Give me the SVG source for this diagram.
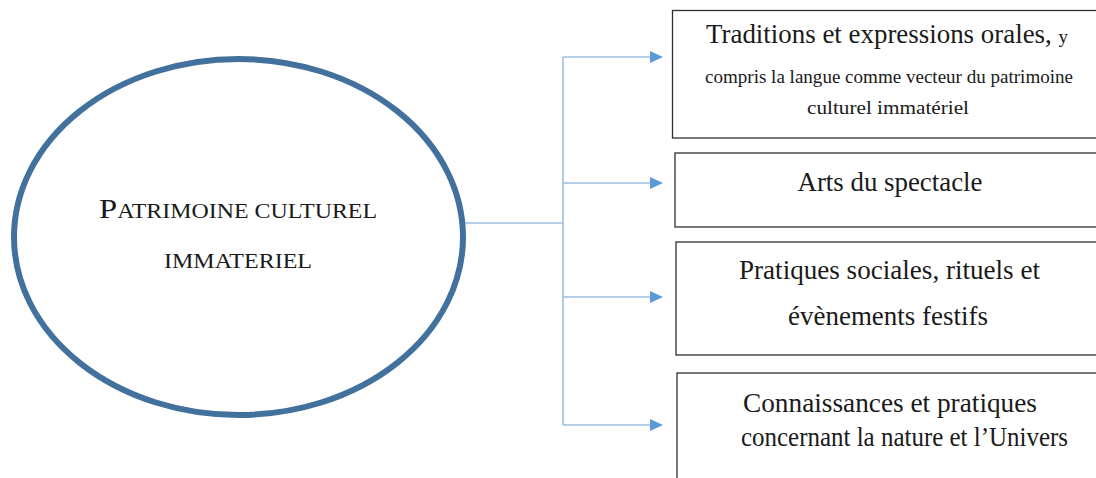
<svg xmlns="http://www.w3.org/2000/svg" width="1096" height="478" viewBox="0 0 1096 478">
<style>
.box{fill:#ffffff;stroke:#2f2f2f;stroke-width:1.3}
.t{font-family:'Liberation Serif','DejaVu Serif','Noto Serif',serif;fill:#1a1a1a;text-anchor:middle}
.conn{fill:none;stroke:#9dbfe2;stroke-width:1.6}
</style>
<defs>
<marker id="arr" viewBox="0 0 13 12" refX="0" refY="6" markerWidth="13" markerHeight="12" markerUnits="userSpaceOnUse" orient="auto">
<path d="M0,0 L13,6 L0,12 Z" fill="#5b9bd5"/>
</marker>
</defs>
<rect width="1096" height="478" fill="#ffffff"/>
<g id="connectors">
<path class="conn" d="M463,223 H563"/>
<path class="conn" d="M563,57 V425"/>
<path class="conn" d="M563,57 H650" marker-end="url(#arr)"/>
<path class="conn" d="M563,183 H650" marker-end="url(#arr)"/>
<path class="conn" d="M563,297 H650" marker-end="url(#arr)"/>
<path class="conn" d="M563,425 H650" marker-end="url(#arr)"/>
</g>
<g id="center">
<ellipse cx="238.5" cy="237" rx="224.5" ry="178" fill="#ffffff" stroke="#41719c" stroke-width="6"/>
<text class="t" font-family="Liberation Serif, DejaVu Serif, serif" x="238" y="218" textLength="278" lengthAdjust="spacingAndGlyphs"><tspan font-size="28">P</tspan><tspan font-size="20.5">ATRIMOINE CULTUREL</tspan></text>
<text class="t" font-family="Liberation Serif, DejaVu Serif, serif" x="238" y="268" font-size="20.5" textLength="148" lengthAdjust="spacingAndGlyphs">IMMATERIEL</text>
</g>
<g id="box1">
<rect class="box" x="672.5" y="10.5" width="430" height="127.5"/>
<text class="t" font-family="Liberation Serif, DejaVu Serif, serif" x="887" y="43" textLength="362" lengthAdjust="spacingAndGlyphs"><tspan font-size="27">Traditions et expressions orales, </tspan><tspan font-size="19">y</tspan></text>
<text class="t" font-family="Liberation Serif, DejaVu Serif, serif" x="889" y="83" font-size="19.5" textLength="368" lengthAdjust="spacingAndGlyphs">compris la langue comme vecteur du patrimoine</text>
<text class="t" font-family="Liberation Serif, DejaVu Serif, serif" x="888" y="114" font-size="19.5" textLength="162" lengthAdjust="spacingAndGlyphs">culturel immatériel</text>
</g>
<g id="box2">
<rect class="box" x="675" y="153" width="430" height="74"/>
<text class="t" font-family="Liberation Serif, DejaVu Serif, serif" x="890" y="191" font-size="26.5" textLength="185" lengthAdjust="spacingAndGlyphs">Arts du spectacle</text>
</g>
<g id="box3">
<rect class="box" x="676" y="242" width="430" height="113"/>
<text class="t" font-family="Liberation Serif, DejaVu Serif, serif" x="889.5" y="279" font-size="26.5" textLength="301" lengthAdjust="spacingAndGlyphs">Pratiques sociales, rituels et</text>
<text class="t" font-family="Liberation Serif, DejaVu Serif, serif" x="888" y="325" font-size="26.5" textLength="200" lengthAdjust="spacingAndGlyphs">évènements festifs</text>
</g>
<g id="box4">
<rect class="box" x="677" y="373" width="430" height="120"/>
<text class="t" font-family="Liberation Serif, DejaVu Serif, serif" x="890" y="412" font-size="26.5" textLength="294" lengthAdjust="spacingAndGlyphs">Connaissances et pratiques</text>
<text class="t" font-family="Liberation Serif, DejaVu Serif, serif" x="904.5" y="446" font-size="26.5" textLength="327" lengthAdjust="spacingAndGlyphs">concernant la nature et l’Univers</text>
</g>
</svg>
